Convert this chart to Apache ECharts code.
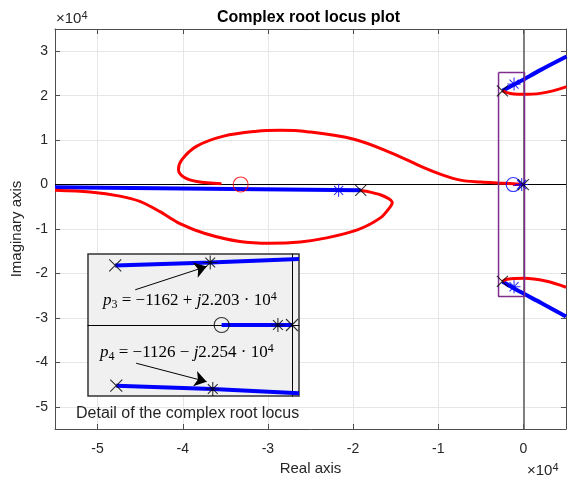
<!DOCTYPE html>
<html>
<head>
<meta charset="utf-8">
<title>Complex root locus plot</title>
<script src="https://cdn.jsdelivr.net/npm/echarts@6/dist/echarts.min.js"></script>
<style>
  html, body { margin: 0; padding: 0; background: #fff; }
  #chart { width: 573px; height: 483px; }
</style>
</head>
<body>
<div id="chart"></div>
<script>
// main plot, real / imaginary parts in units of 1e4
var redUpperLoop = [[-3.545, 0.02], [-3.835, 0.07], [-3.99, 0.17], [-4.05, 0.34], [-4.01, 0.56],
  [-3.84, 0.86], [-3.52, 1.09], [-3.13, 1.20], [-2.855, 1.22], [-2.54, 1.19], [-1.99, 1.02],
  [-1.56, 0.72], [-1.17, 0.38], [-0.97, 0.23], [-0.74, 0.10], [-0.5, 0.055], [-0.31, 0.035],
  [-0.12, 0.02], [0, 0]]
var redLowerLoop = [[-5.5, -0.13], [-5.09, -0.17], [-4.738, -0.26], [-4.503, -0.38], [-4.268, -0.61],
  [-4.033, -0.88], [-3.739, -1.10], [-3.33, -1.28], [-2.97, -1.32], [-2.62, -1.29],
  [-2.31, -1.20], [-1.95, -1.02], [-1.68, -0.75], [-1.56, -0.49], [-1.54, -0.41], [-1.58, -0.32],
  [-1.68, -0.23], [-1.80, -0.17], [-1.91, -0.135]]
var redUpperRight = [[-0.247, 2.11], [-0.15, 2.05], [0.047, 2.03], [0.28, 2.08], [0.506, 2.2]]
var redLowerRight = [[-0.247, -2.18], [-0.19, -2.13], [0.007, -2.11], [0.26, -2.17], [0.5, -2.31]]
var blueReal = [[-5.5, -0.06], [-1.91, -0.13]]
var blueOrigin = [[-0.12, 0], [0, 0]]
var blueUpperRight = [[-0.247, 2.11], [-0.032, 2.33], [0.204, 2.58], [0.506, 2.88]]
var blueLowerRight = [[-0.247, -2.18], [-0.032, -2.42], [0.204, -2.66], [0.5, -2.97]]
var openLoopPoles = [[-1.91, -0.13], [-0.247, 2.11], [-0.247, -2.18], [0, 0]]
var closedLoopPoles = [[-2.17, -0.13], [-0.11, 2.26], [-0.11, -2.30], [-0.02, 0]]
var redZeros = [[-3.32, 0]]
var blueZeros = [[-0.12, 0]]
var detailBox = [[-0.292, 2.52], [0.013, 2.52], [0.013, -2.52], [-0.292, -2.52], [-0.292, 2.52]]

// inset (detail), raw units
var detailUpper = [[-2513, 20980], [-1162, 22030], [100, 23230]]
var detailLower = [[-2498, -21370], [-1126, -22540], [100, -24050]]
var detailReal = [[-1000, 0], [0, 0]]
var detailPoles = [[-2513, 20980], [-2498, -21370], [0, 0]]
var detailStars = [[-1162, 22030], [-1126, -22540], [-200, 0]]
var detailZeros = [[-1000, 0]]
var arrowP3 = [[-2229, 12400], [-1213, 20620]]
var arrowP4 = [[-2215, -13460], [-1213, -19950]]

var CROSS = 'path://M0,0L10,10M10,0L0,10'
var STAR = 'path://M5,0L5,10M0,5L10,5M1.5,1.5L8.5,8.5M8.5,1.5L1.5,8.5'
var AX = '#4d4d4d'
var TXT = '#262626'

function curve(data, color, width, smooth) {
  return {
    type: 'line', xAxisIndex: 0, yAxisIndex: 0, data: data,
    symbol: 'none', smooth: smooth, z: 3,
    lineStyle: { color: color, width: width },
    silent: true
  }
}
function marks(data, symbol, size, color, xi, z) {
  return {
    type: 'scatter', xAxisIndex: xi, yAxisIndex: xi, data: data,
    symbol: symbol, symbolSize: size, z: z,
    itemStyle: { color: symbol === 'circle' ? 'none' : color, borderColor: color, borderWidth: 1.1 },
    silent: true
  }
}
function inset(data, color, width) {
  return {
    type: 'line', xAxisIndex: 2, yAxisIndex: 2, data: data,
    symbol: 'none', z: 12,
    lineStyle: { color: color, width: width },
    silent: true
  }
}

var serifRich = {
  i: { fontFamily: 'Liberation Serif', fontStyle: 'italic', fontSize: 17, lineHeight: 20, fill: '#000' },
  n: { fontFamily: 'Liberation Serif', fontSize: 17, lineHeight: 20, fill: '#000' },
  b: { fontFamily: 'Liberation Serif', fontSize: 12, lineHeight: 12, verticalAlign: 'bottom', fill: '#000' },
  t: { fontFamily: 'Liberation Serif', fontSize: 12, lineHeight: 12, verticalAlign: 'top', fill: '#000' }
}
var expRich = {
  a: { fontFamily: 'Liberation Sans', fontSize: 15, lineHeight: 18, fill: TXT },
  e: { fontFamily: 'Liberation Sans', fontSize: 11, lineHeight: 11, verticalAlign: 'top', fill: TXT }
}

var chart = echarts.init(document.getElementById('chart'))
chart.setOption({
  animation: false,
  backgroundColor: '#fff',
  textStyle: { fontFamily: 'Liberation Sans' },
  title: {
    text: 'Complex root locus plot',
    left: 212, top: 5,
    textStyle: { fontSize: 16, fontWeight: 'bold', color: '#000' }
  },
  grid: [
    { left: 55, right: 7, top: 29, bottom: 54 },
    { left: 88, top: 254, width: 211, height: 142, show: true, z: 10,
      backgroundColor: '#f0f0f0', borderColor: '#333', borderWidth: 1.5 }
  ],
  xAxis: [{
    type: 'value', gridIndex: 0, position: 'bottom', min: -5.5, max: 0.5, splitNumber: 6,
    name: 'Real axis', nameLocation: 'middle', nameGap: 32,
    nameTextStyle: { fontSize: 15, color: TXT },
    axisLine: { onZero: false, lineStyle: { color: AX } },
    axisTick: { inside: true, length: 5, lineStyle: { color: AX } },
    axisLabel: { fontSize: 14, color: TXT, margin: 13, showMinLabel: false, showMaxLabel: false },
    splitLine: { show: true, lineStyle: { color: '#e6e6e6' } }
  }, {
    type: 'value', gridIndex: 0, position: 'top', min: -5.5, max: 0.5, splitNumber: 6,
    axisLine: { onZero: false, lineStyle: { color: AX } },
    axisTick: { inside: true, length: 5, lineStyle: { color: AX } },
    axisLabel: { show: false },
    splitLine: { show: false }
  }, {
    type: 'value', gridIndex: 1, min: -2900, max: 100, z: 11,
    axisLine: { onZero: true, lineStyle: { color: '#000', width: 1 } },
    axisTick: { show: false }, axisLabel: { show: false }, splitLine: { show: false }
  }],
  yAxis: [{
    type: 'value', gridIndex: 0, position: 'left', min: -5.5, max: 3.5, splitNumber: 9,
    name: 'Imaginary axis', nameLocation: 'middle', nameGap: 28,
    nameTextStyle: { fontSize: 15, color: TXT },
    axisLine: { onZero: false, lineStyle: { color: AX } },
    axisTick: { inside: true, length: 5, lineStyle: { color: AX } },
    axisLabel: { fontSize: 14, color: TXT, margin: 7, showMinLabel: false, showMaxLabel: false },
    splitLine: { show: true, lineStyle: { color: '#e6e6e6' } }
  }, {
    type: 'value', gridIndex: 0, position: 'right', min: -5.5, max: 3.5, splitNumber: 9,
    axisLine: { onZero: false, lineStyle: { color: AX } },
    axisTick: { inside: true, length: 5, lineStyle: { color: AX } },
    axisLabel: { show: false },
    splitLine: { show: false }
  }, {
    type: 'value', gridIndex: 1, min: -25000, max: 25000, z: 11,
    axisLine: { onZero: true, lineStyle: { color: '#000', width: 1 } },
    axisTick: { show: false }, axisLabel: { show: false }, splitLine: { show: false }
  }],
  series: [
    {
      type: 'line', xAxisIndex: 0, yAxisIndex: 0, data: [], silent: true,
      markLine: {
        silent: true, symbol: 'none', z: 1, label: { show: false },
        data: [
          { yAxis: 0, lineStyle: { color: '#000', width: 1, type: 'solid' } },
          { xAxis: 0, lineStyle: { color: '#595959', width: 1.5, type: 'solid' } }
        ]
      }
    },
    curve(blueReal, '#0000ff', 4, false),
    curve(blueOrigin, '#0000ff', 3, false),
    curve(blueUpperRight, '#0000ff', 4, 0.3),
    curve(blueLowerRight, '#0000ff', 4, 0.3),
    curve(redUpperLoop, '#ff0000', 3, 0.35),
    curve(redLowerLoop, '#ff0000', 3, 0.3),
    curve(redUpperRight, '#ff0000', 3, 0.4),
    curve(redLowerRight, '#ff0000', 3, 0.4),
    {
      type: 'line', xAxisIndex: 0, yAxisIndex: 0, data: detailBox, symbol: 'none', z: 3,
      lineStyle: { color: '#7e2f8e', width: 1.5 }, silent: true
    },
    marks(closedLoopPoles, STAR, 13, '#0000ff', 0, 4),
    marks(redZeros, 'circle', 15, '#ff0000', 0, 4),
    marks(blueZeros, 'circle', 14, '#0000ff', 0, 4),
    marks(openLoopPoles, CROSS, 11, '#000', 0, 5),

    inset(detailUpper, '#0000ff', 4),
    inset(detailLower, '#0000ff', 4),
    inset(detailReal, '#0000ff', 4),
    marks(detailStars, STAR, 14, '#000', 2, 13),
    marks(detailZeros, 'circle', 15, '#000', 2, 13),
    marks(detailPoles, CROSS, 12, '#000', 2, 13),
    {
      type: 'line', xAxisIndex: 2, yAxisIndex: 2, data: [], silent: true, z: 12,
      markLine: {
        silent: true, z: 14, symbol: ['none', 'arrow'], symbolSize: 12,
        label: { show: false },
        lineStyle: { color: '#000', width: 1, type: 'solid' },
        data: [
          [{ coord: arrowP3[0] }, { coord: arrowP3[1] }],
          [{ coord: arrowP4[0] }, { coord: arrowP4[1] }]
        ]
      }
    }
  ],
  graphic: [
    { type: 'text', left: 56, top: 10, z: 20, style: { text: '{a|×10}{e|4}', rich: expRich } },
    { type: 'text', left: 527, top: 462, z: 20, style: { text: '{a|×10}{e|4}', rich: expRich } },
    { type: 'text', left: 76, top: 406, z: 20,
      style: { text: 'Detail of the complex root locus', fontSize: 16, fontFamily: 'Liberation Sans', fill: TXT } },
    { type: 'text', left: 103, top: 291, z: 20,
      style: { text: '{i|p}{b|3}{n| = −1162 + }{i|j}{n|2.203 · 10}{t|4}', rich: serifRich } },
    { type: 'text', left: 100, top: 343, z: 20,
      style: { text: '{i|p}{b|4}{n| = −1126 − }{i|j}{n|2.254 · 10}{t|4}', rich: serifRich } }
  ]
})
</script>
</body>
</html>
